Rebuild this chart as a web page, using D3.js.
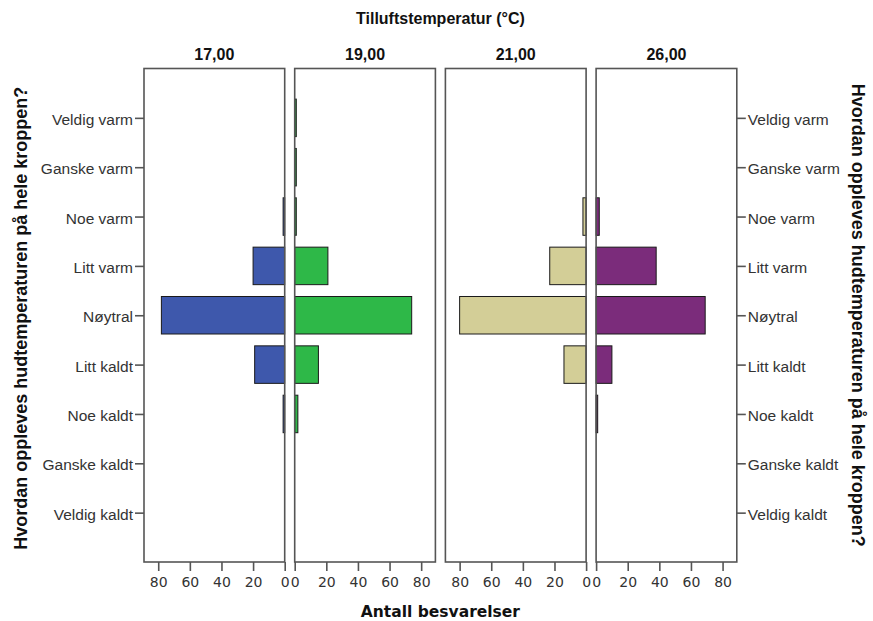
<!DOCTYPE html>
<html lang="en">
<head>
  <meta charset="UTF-8">
  <title>Tilluftstemperatur</title>
  <script src="https://cdnjs.cloudflare.com/ajax/libs/d3/7.8.5/d3.min.js"></script>
  <style>
    body { margin: 0; background: #fff; }
    text { font-family: "Liberation Sans", Arial, sans-serif; }
  </style>
</head>
<body>
  <script>
var width = 873,
    height = 621;

// chart data
var categories = ["Veldig varm", "Ganske varm", "Noe varm", "Litt varm", "Nøytral",
                  "Litt kaldt", "Noe kaldt", "Ganske kaldt", "Veldig kaldt"];
var panels = ["17,00", "19,00", "21,00", "26,00"];
var counts17 = [0, 0, 1, 20, 78, 19, 1, 0, 0];
var counts19 = [1, 1, 1, 21, 74, 15, 2, 0, 0];
var counts21 = [0, 0, 2, 23, 80, 14, 0, 0, 0];
var counts26 = [0, 0, 2, 38, 69, 10, 1, 0, 0];
var xTicks = [0, 20, 40, 60, 80];

var series = [counts17, counts19, counts21, counts26];
var colors = ["#3E58AC", "#2EB848", "#D3CE97", "#7B2C7B"];

var plotTop = 68.5, plotBottom = 562,
    firstLeft = 144, panelW = 140.7, step = 150.7;

var svg = d3.select("body").append("svg")
    .attr("width", width)
    .attr("height", height);

var y = d3.scalePoint()
    .domain(categories)
    .range([plotTop, plotBottom])
    .padding(1);

var barH = y.step() * 0.76;

panels.forEach(function(p, i) {
  var left = firstLeft + i * step;
  var flip = (i % 2 == 0); // left panel of each pair grows leftwards
  var x = d3.scaleLinear()
      .domain(flip ? [89, 0] : [0, 89])
      .range([left, left + panelW]);

  var g = svg.append("g");

  g.selectAll("rect.bar")
      .data(series[i].map(function(v, k) { return {cat: categories[k], v: v}; })
                     .filter(function(d) { return d.v > 0; }))
    .enter().append("rect")
      .attr("class", "bar")
      .attr("x", function(d) { return Math.min(x(0), x(d.v)); })
      .attr("y", function(d) { return y(d.cat) - barH / 2; })
      .attr("width", function(d) { return Math.abs(x(d.v) - x(0)); })
      .attr("height", barH)
      .style("fill", colors[i])
      .style("stroke", "#1a1a1a")
      .style("stroke-width", 1);

  // panel frame
  g.append("rect")
      .attr("x", left)
      .attr("y", plotTop)
      .attr("width", panelW)
      .attr("height", plotBottom - plotTop)
      .style("fill", "none")
      .style("stroke", "#555")
      .style("stroke-width", 1.6);

  // panel title
  g.append("text")
      .attr("x", left + panelW / 2)
      .attr("y", 59.5)
      .attr("text-anchor", "middle")
      .style("font-size", "16px")
      .style("font-weight", "bold")
      .style("fill", "#111")
      .text(p);

  var ax = g.append("g")
      .attr("transform", "translate(0," + plotBottom + ")")
      .call(d3.axisBottom(x).tickValues(xTicks).tickSizeInner(9).tickSizeOuter(0).tickPadding(6));
  ax.select(".domain").remove();
  ax.selectAll("line").style("stroke", "#555").style("stroke-width", 1.6);
  ax.selectAll("text")
      .style("font-family", "'DejaVu Sans', sans-serif")
      .style("font-size", "14px")
      .style("fill", "#333");

  if (i == 0 || i == panels.length - 1) {
    var yAxis = (i == 0 ? d3.axisLeft(y) : d3.axisRight(y))
        .tickSizeInner(9).tickSizeOuter(0).tickPadding(2);
    var ay = g.append("g")
        .attr("transform", "translate(" + (i == 0 ? left : left + panelW) + ",0)")
        .call(yAxis);
    ay.select(".domain").remove();
    ay.selectAll("line").style("stroke", "#555").style("stroke-width", 1.6);
    ay.selectAll("text")
        .attr("dy", "0.42em")
        .style("font-family", "'Liberation Sans', Arial, sans-serif")
        .style("font-size", "15.5px")
        .style("fill", "#333");
  }
});

var midX = firstLeft + (3 * step + panelW) / 2;
var midY = (plotTop + plotBottom) / 2;

svg.append("text")
    .attr("x", midX)
    .attr("y", 24)
    .attr("text-anchor", "middle")
    .style("font-size", "16px")
    .style("font-weight", "bold")
    .style("fill", "#111")
    .text("Tilluftstemperatur (°C)");

svg.append("text")
    .attr("x", midX)
    .attr("y", 617)
    .attr("text-anchor", "middle")
    .style("font-family", "'DejaVu Sans', sans-serif")
    .style("font-size", "15.5px")
    .style("font-weight", "bold")
    .style("fill", "#111")
    .text("Antall besvarelser");

svg.append("text")
    .attr("transform", "translate(27," + (midY + 3) + ") rotate(-90)")
    .attr("text-anchor", "middle")
    .style("font-size", "18px")
    .style("font-weight", "bold")
    .style("fill", "#111")
    .text("Hvordan oppleves hudtemperaturen på hele kroppen?");

svg.append("text")
    .attr("transform", "translate(852," + midY + ") rotate(90)")
    .attr("text-anchor", "middle")
    .style("font-size", "18px")
    .style("font-weight", "bold")
    .style("fill", "#111")
    .text("Hvordan oppleves hudtemperaturen på hele kroppen?");
  </script>
</body>
</html>
